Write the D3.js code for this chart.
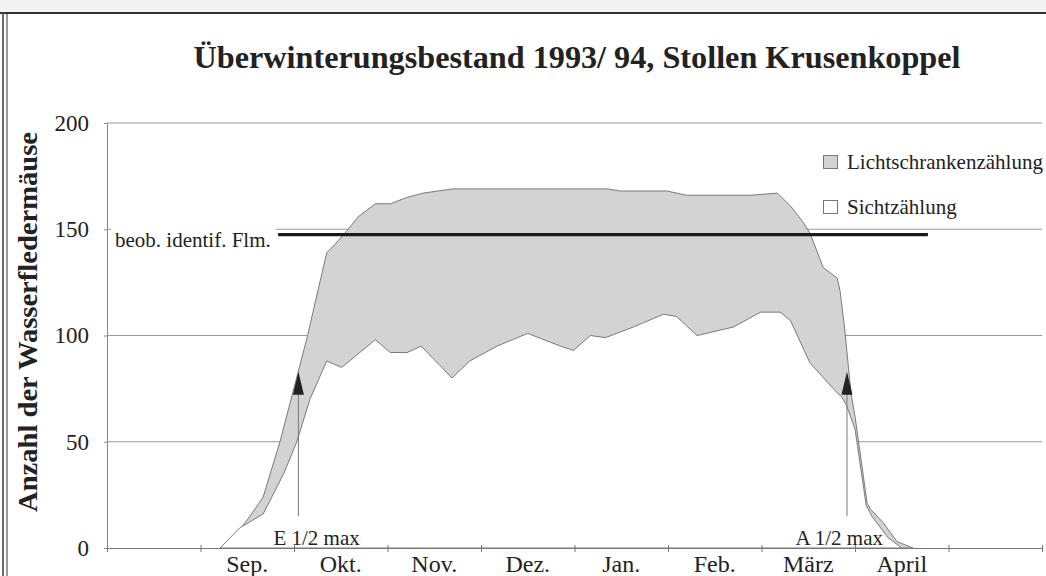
<!DOCTYPE html>
<html><head><meta charset="utf-8">
<script src="https://cdn.jsdelivr.net/npm/d3@7"></script>
<style>
body{margin:0;background:#fff}
svg{display:block}
text{font-family:"Liberation Serif","Times New Roman",serif;fill:#222}
</style>
</head><body>
<svg id="chart" width="1046" height="576"></svg>
<script>
// ---- data (month index: 0 = Aug start, 10 = end of May) ----
const monthLabels = ["", "Sep.", "Okt.", "Nov.", "Dez.", "Jan.", "Feb.", "März", "April", ""];
const yTickValues = [0, 50, 100, 150, 200];

const lichtMonth = [1.21, 1.35, 1.53, 1.67, 1.85, 2.14, 2.35, 2.44, 2.58, 2.69, 2.87, 3.03, 3.21, 3.38, 3.70, 5.35, 5.49, 5.99, 6.20, 6.88, 7.17, 7.31, 7.45, 7.52, 7.66, 7.81, 7.84, 7.89, 7.93, 7.96, 8.00, 8.13, 8.17, 8.30, 8.45, 8.62];
const lichtCount = [0, 4.5, 15, 24, 50, 99, 139, 143, 150, 156, 162, 162, 165, 167, 169, 169, 168, 168, 166, 166, 167, 161, 153, 148, 132, 127, 121, 103, 85, 72, 62, 21, 18, 12, 3, 0];

const sichtMonth = [1.21, 1.42, 1.67, 1.89, 2.03, 2.17, 2.35, 2.51, 2.87, 3.03, 3.21, 3.36, 3.69, 3.88, 4.17, 4.50, 4.85, 4.99, 5.17, 5.33, 5.63, 5.95, 6.09, 6.31, 6.70, 6.99, 7.20, 7.31, 7.52, 7.81, 7.86, 7.91, 8.00, 8.12, 8.18, 8.35, 8.50];
const sichtCount = [0, 9.5, 16, 35, 50, 70, 88, 85, 98, 92, 92, 95, 80, 88, 95, 101, 95, 93, 100, 99, 104, 110, 109, 100, 104, 111, 111, 107, 87, 73, 71, 67, 56, 20, 15, 5, 0];

const identifiedLabel = "beob. identif. Flm.";
const identifiedLevel = [147.5];
const identifiedRange = [1.83, 8.78];

const halfMaxLabels = ["E 1/2 max", "A 1/2 max"];
const halfMaxMonth = [2.047, 7.914];
const halfMaxValue = [83, 83];

const seriesNames = ["Lichtschrankenzählung", "Sichtzählung"];
const titleText = "Überwinterungsbestand 1993/ 94, Stollen Krusenkoppel";
const yTitle = "Anzahl der Wasserfledermäuse";

// ---- drawing ----
const svg = d3.select("#chart");
const x = d3.scaleLinear().domain([0, 10]).range([107, 1042]);
const y = d3.scaleLinear().domain([0, 200]).range([548, 123]);

// frame
svg.append("rect").attr("x",0).attr("y",0).attr("width",1046).attr("height",12).attr("fill","#f3f3f3");
svg.append("line").attr("x1",0).attr("x2",1046).attr("y1",13).attr("y2",13).attr("stroke","#333").attr("stroke-width",2);
svg.append("line").attr("x1",3).attr("x2",3).attr("y1",12).attr("y2",576).attr("stroke","#444").attr("stroke-width",1.6);
svg.append("line").attr("x1",7).attr("x2",7).attr("y1",14).attr("y2",576).attr("stroke","#555").attr("stroke-width",1.2);

// gridlines
svg.append("g").selectAll("line").data(yTickValues.filter(v => v > 0)).join("line")
  .attr("x1", x(0)).attr("x2", x(10)).attr("y1", d => y(d)).attr("y2", d => y(d))
  .attr("stroke", "#999").attr("stroke-width", 1);

// areas
const licht = lichtMonth.map((m, i) => [m, lichtCount[i]]);
const sicht = sichtMonth.map((m, i) => [m, sichtCount[i]]);
const area = d3.area().x(d => x(d[0])).y0(y(0)).y1(d => y(d[1]));
svg.append("path").datum(licht).attr("d", area)
  .attr("fill", "#d3d3d3").attr("stroke", "#7a7a7a").attr("stroke-width", 1);
svg.append("path").datum(sicht).attr("d", area)
  .attr("fill", "#fff").attr("stroke", "#7a7a7a").attr("stroke-width", 1);

// y axis
const yAxis = d3.axisLeft(y).tickValues(yTickValues).tickSize(3).tickPadding(15).tickFormat(d3.format("d"));
const gy = svg.append("g").attr("transform", `translate(${x(0)},0)`).call(yAxis);
gy.select(".domain").attr("stroke", "#888");
gy.selectAll(".tick line").attr("stroke", "#888");
gy.selectAll(".tick text").attr("font-size", 23).attr("font-family", "Liberation Serif").attr("fill", "#333");

// x axis
const xAxis = d3.axisBottom(x).tickValues(d3.range(0, 11)).tickSize(4).tickFormat("");
const gx = svg.append("g").attr("transform", `translate(0,${y(0)})`).call(xAxis);
gx.select(".domain").attr("stroke", "#777");
gx.selectAll(".tick line").attr("stroke", "#777").attr("y1", -3);
svg.append("g").selectAll("text").data(monthLabels).join("text")
  .attr("x", (d, i) => x(i + 0.5)).attr("y", 572)
  .attr("text-anchor", "middle").attr("font-size", 24).attr("fill", "#333")
  .text(d => d);

// identified line + label
svg.append("rect").attr("x", x(0) + 4).attr("y", y(150) - 3).attr("width", x(identifiedRange[0]) - x(0) - 6).attr("height", 26).attr("fill", "#fff");
svg.append("text").attr("x", 115).attr("y", 247).attr("font-size", 21).attr("fill", "#333").text(identifiedLabel);
svg.append("line")
  .attr("x1", x(identifiedRange[0])).attr("x2", x(identifiedRange[1]))
  .attr("y1", y(identifiedLevel[0])).attr("y2", y(identifiedLevel[0]))
  .attr("stroke", "#1a1a1a").attr("stroke-width", 3.2);

// half-max arrows
halfMaxMonth.forEach((m, i) => {
  const px = x(m), tip = y(halfMaxValue[i]);
  svg.append("line").attr("x1", px).attr("x2", px).attr("y1", y(15)).attr("y2", tip + 20)
    .attr("stroke", "#777").attr("stroke-width", 1);
  svg.append("path").attr("d", `M${px},${tip} L${px - 5.5},${tip + 23} L${px + 5.5},${tip + 23} Z`)
    .attr("fill", "#222");
  svg.append("text")
    .attr("x", i === 0 ? px - 25 : px + 36).attr("y", 545)
    .attr("text-anchor", i === 0 ? "start" : "end")
    .attr("font-size", 21).attr("fill", "#333").text(halfMaxLabels[i]);
});

// legend
const legFill = ["#d3d3d3", "#fff"];
seriesNames.forEach((s, i) => {
  const ly = 155 + i * 45;
  svg.append("rect").attr("x", 823.5).attr("y", ly + 0.5).attr("width", 14).attr("height", 13)
    .attr("fill", legFill[i]).attr("stroke", "#777");
  svg.append("text").attr("x", 847).attr("y", ly + 13.5).attr("font-size", 21).attr("fill", "#333").text(s);
});

// titles
svg.append("text").attr("x", 577).attr("y", 68).attr("text-anchor", "middle")
  .attr("font-size", 32).attr("font-weight", "bold").attr("fill", "#111")
  .attr("textLength", 767).attr("lengthAdjust", "spacingAndGlyphs").text(titleText);
svg.append("text").attr("transform", "translate(37,322) rotate(-90)").attr("text-anchor", "middle")
  .attr("font-size", 28).attr("font-weight", "bold").attr("fill", "#111")
  .attr("textLength", 380).attr("lengthAdjust", "spacingAndGlyphs").text(yTitle);
</script>
</body></html>
